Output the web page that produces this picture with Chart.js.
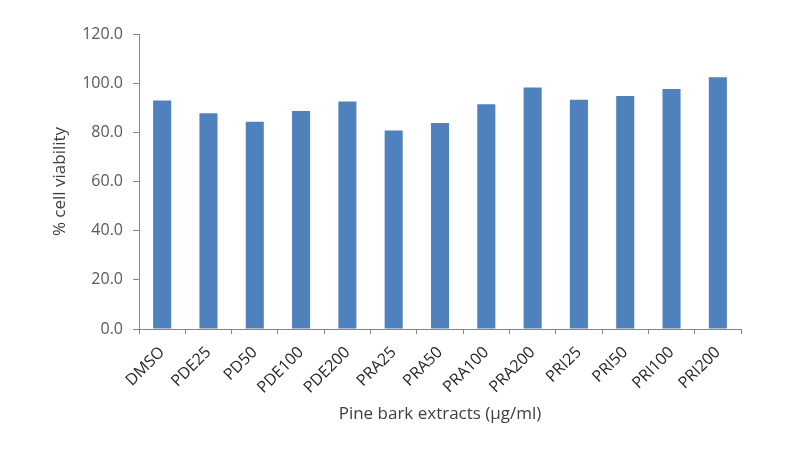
<!DOCTYPE html>
<html>
<head>
<meta charset="utf-8">
<script src="https://cdn.jsdelivr.net/npm/chart.js@4/dist/chart.umd.min.js"></script>
<style>
html,body{margin:0;padding:0;background:#fff;}
#wrap{width:801px;height:454px;position:relative;}
</style>
</head>
<body>
<div id="wrap"><canvas id="c" width="801" height="454"></canvas></div>
<script>
const categories = ["DMSO","PDE25","PD50","PDE100","PDE200","PRA25","PRA50","PRA100","PRA200","PRI25","PRI50","PRI100","PRI200"];
const viability = [92.9, 87.8, 84.3, 88.7, 92.5, 80.7, 83.8, 91.4, 98.2, 93.3, 94.8, 97.6, 102.4];
const yTicks = [0, 20, 40, 60, 80, 100, 120];
const xTitle = "Pine bark extracts (µg/ml)";
const yTitle = "% cell viability";

const fontFamily = "'Open Sans', 'Liberation Sans', sans-serif";

new Chart(document.getElementById('c'), {
  type: 'bar',
  data: {
    labels: categories,
    datasets: [{
      data: viability,
      backgroundColor: '#4F81BD',
      borderWidth: 0,
      categoryPercentage: 1.0,
      barPercentage: 0.39
    }]
  },
  options: {
    responsive: false,
    animation: false,
    layout: { padding: { top: 34, right: 60, bottom: 28, left: 0 } },
    plugins: { legend: { display: false }, tooltip: { enabled: false } },
    scales: {
      x: {
        grid: { display: true, drawOnChartArea: false, drawTicks: true, tickLength: 5, color: '#868686', offset: true },
        border: { display: true, color: '#868686', width: 1 },
        ticks: { color: '#262626', font: { family: fontFamily, size: 16 }, minRotation: 45, maxRotation: 45, padding: 9, autoSkip: false },
        title: { display: true, text: xTitle, color: '#404040', font: { family: fontFamily, size: 17 }, padding: { top: 4, bottom: 2 } },
        afterFit: (s) => { s.height = 97; }
      },
      y: {
        min: 0, max: 120,
        afterBuildTicks: (s) => { s.ticks = yTicks.map(v => ({ value: v })); },
        grid: { display: true, drawOnChartArea: false, drawTicks: true, tickLength: 6, color: '#868686' },
        border: { display: true, color: '#868686', width: 1 },
        ticks: { color: '#595959', font: { family: fontFamily, size: 16 }, padding: 10, callback: (v) => Number(v).toFixed(1) },
        title: { display: true, text: yTitle, color: '#404040', font: { family: fontFamily, size: 17 }, padding: { top: 50, bottom: 0 } },
        afterFit: (s) => { s.width = 139; }
      }
    }
  }
});
</script>
</body>
</html>
